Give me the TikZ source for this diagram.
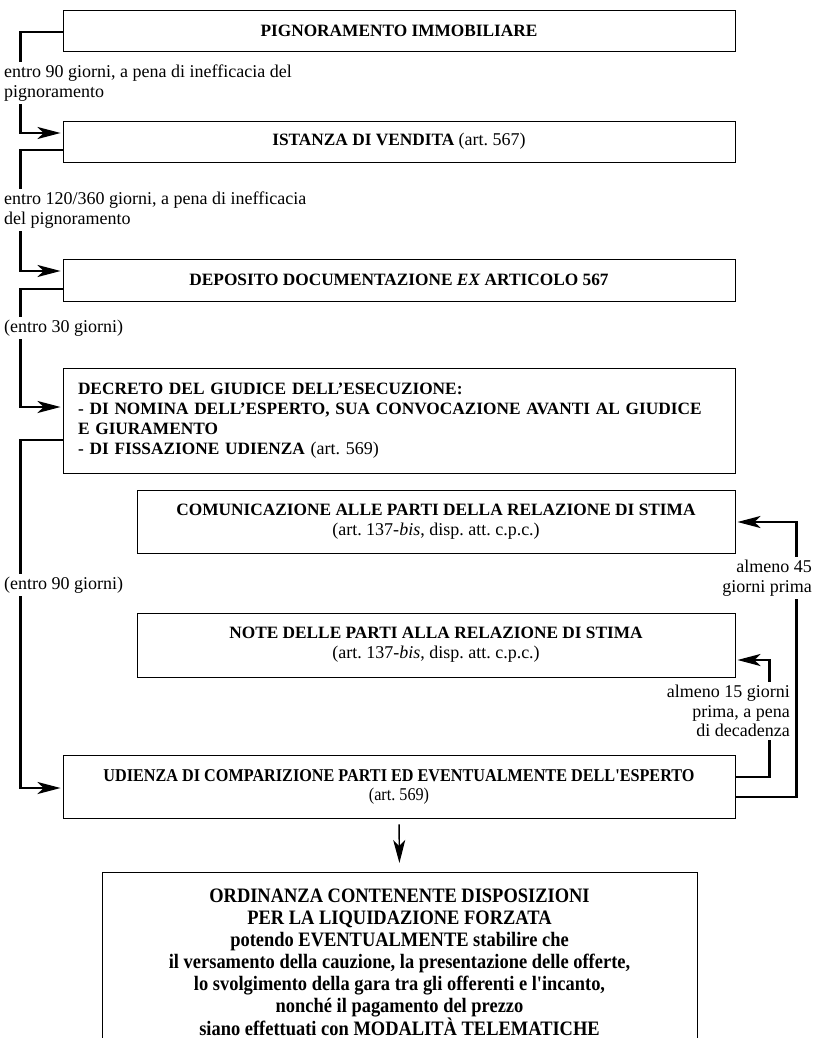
\documentclass[tikz,border=0pt]{standalone}
\usepackage{fontspec}
\setmainfont{Liberation Serif}
\newfontfamily\condfont[FakeStretch=0.9]{Liberation Serif}
\usetikzlibrary{arrows.meta}
\frenchspacing
\newcommand{\artref}[1]{{\fontsize{18}{20}\selectfont #1}}

\begin{document}
\begin{tikzpicture}[x=1pt, y=-1pt,
    box/.style={rectangle, draw, line width=0.9pt, fill=white, minimum width=672pt, inner sep=0pt, align=center, font=\fontsize{17.3}{20}\selectfont},
    subbox/.style={box, minimum width=598pt},
    tag/.style={fill=white, inner xsep=1pt, inner ysep=3pt, font=\fontsize{18}{19.5}\selectfont},
    link/.style={line width=2.2pt},
    arrow/.style={link, -{Stealth[length=23pt, width=12pt, inset=6pt]}, shorten >=2pt}
]
    \path[use as bounding box, clip] (0,0) rectangle (814,1038);

    % Main chain
    \node[box, minimum height=41pt] (pign) at (399,30.5) {\textbf{PIGNORAMENTO IMMOBILIARE}};
    \node[box, minimum height=41pt] (ist) at (399,141.5) {\textbf{ISTANZA DI VENDITA} \artref{(art. 567)}};
    \node[box, minimum height=42pt] (dep) at (399,280) {\textbf{DEPOSITO DOCUMENTAZIONE \textit{EX} ARTICOLO 567}};
    \node[box, minimum height=105pt, text width=642pt, align=left] (decr) at (399,420.5)
        {\textbf{DECRETO DEL GIUDICE DELL'ESECUZIONE:}\\
         \textbf{- DI NOMINA DELL'ESPERTO, SUA CONVOCAZIONE AVANTI AL GIUDICE}\\
         \textbf{E GIURAMENTO}\\
         \textbf{- DI FISSAZIONE UDIENZA} \artref{(art. 569)}};

    % Relazione di stima
    \node[subbox, minimum height=63pt] (com) at (436,521.5)
        {\textbf{COMUNICAZIONE ALLE PARTI DELLA RELAZIONE DI STIMA}\\\artref{(art. 137-\textit{bis}, disp. att. c.p.c.)}};
    \node[subbox, minimum height=64pt] (oss) at (436,645)
        {\textbf{NOTE DELLE PARTI ALLA RELAZIONE DI STIMA}\\\artref{(art. 137-\textit{bis}, disp. att. c.p.c.)}};

    % Udienza e ordinanza
    \node[box, minimum height=63pt, font=\condfont\fontsize{18}{19}\selectfont] (udi) at (399,786.5)
        {\textbf{UDIENZA DI COMPARIZIONE PARTI ED EVENTUALMENTE DELL'ESPERTO}\\(art. 569)};
    \node[box, minimum width=595pt, anchor=north, inner ysep=16pt, font=\condfont\bfseries\fontsize{20.5}{22}\selectfont] (ord) at (399.5,872)
        {ORDINANZA CONTENENTE DISPOSIZIONI\\
         PER LA LIQUIDAZIONE FORZATA\\
         potendo EVENTUALMENTE stabilire che\\
         il versamento della cauzione, la presentazione delle offerte,\\
         lo svolgimento della gara tra gli offerenti e l'incanto,\\
         nonché il pagamento del prezzo\\
         siano effettuati con MODALITÀ TELEMATICHE};

    % Connectors
    \draw[arrow] (pign.west |- 0,32) -- ++(-42,0) |- (ist.west |- 0,133);
    \draw[arrow] (ist.west |- 0,150) -- ++(-42,0) |- (dep.west |- 0,271);
    \draw[arrow] (dep.west |- 0,289) -- ++(-42,0) |- (decr.west |- 0,407);
    \draw[arrow] (decr.west |- 0,440) -- ++(-42,0) |- (udi.west |- 0,788);
    \draw[arrow] (udi.east |- 0,777) -- ++(34,0) |- (oss.east |- 0,660);
    \draw[arrow] (udi.east |- 0,797) -- ++(61,0) |- (com.east |- 0,522);
    \draw[arrow, line width=1.4pt, shorten <=6pt, shorten >=9pt] (udi.south) -- (ord.north);

    % Terms
    \node[tag, anchor=west, align=left] (t1) at (3,83) {entro 90 giorni, a pena di inefficacia del\\pignoramento};
    \node[tag, anchor=west, align=left] (t2) at (3,210) {entro 120/360 giorni, a pena di inefficacia\\del pignoramento};
    \node[tag, anchor=west] (t3) at (3,328) {(entro 30 giorni)};
    \node[tag, anchor=west] (t4) at (3,585) {(entro 90 giorni)};
    \node[tag, anchor=east, align=right] (t5) at (813,578) {almeno 45\\giorni prima};
    \node[tag, anchor=east, align=right] (t6) at (791,711) {almeno 15 giorni\\prima, a pena\\di decadenza};
\end{tikzpicture}
\end{document}
